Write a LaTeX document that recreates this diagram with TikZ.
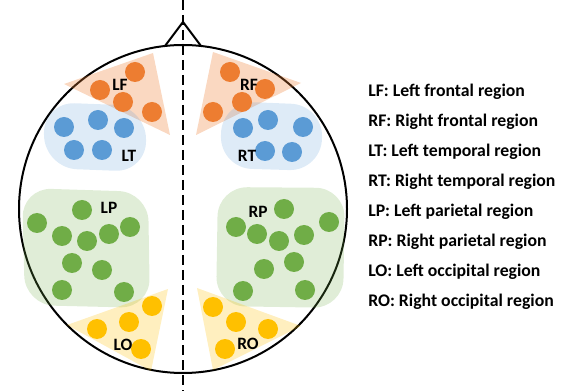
\documentclass[tikz,border=0pt]{standalone}
\usepackage{fontspec}
\setmainfont{Carlito}
\usetikzlibrary{shapes.geometric}
\definecolor{cOrange}{HTML}{ED7D31}
\definecolor{cBlue}{HTML}{5B9BD5}
\definecolor{cGreen}{HTML}{70AD47}
\definecolor{cGold}{HTML}{FFC000}
\tikzset{
  outline/.style={line width=1.5pt, black},
  midline/.style={line width=1.5pt, black, dash pattern=on 7.5pt off 3.75pt},
  zone/.style={draw=none, fill=#1},
  dot/.style={circle, inner sep=0pt, minimum size=15pt, fill=#1, draw=none},
  tag/.style={font=\bfseries\fontsize{13}{15}\selectfont, inner sep=0pt},
  legend/.style={font=\bfseries\fontsize{13.3}{16}\selectfont, inner sep=0pt, anchor=west},
}
\begin{document}
\begin{tikzpicture}[x=0.75pt, y=-0.75pt]
\useasboundingbox (0,0) rectangle (567,391);

% head outline and nose
\node[circle, outline, draw, minimum size=246pt, inner sep=0pt] (head) at (183,209) {};
\coordinate (noseL) at (165,46);
\coordinate (noseT) at (183,22);
\coordinate (noseR) at (201,46);
\draw[outline, line join=miter] (noseL) -- (noseT) -- (noseR);

% frontal regions
\fill[zone=cOrange, fill opacity=0.3] (64,84) -- (153,53) -- (170,135) -- cycle;
\fill[zone=cOrange, fill opacity=0.3] (213,52) -- (301,83) -- (196,135) -- cycle;

% temporal regions
\fill[zone=cBlue, fill opacity=0.2, rounded corners=24pt] (43,102) -- (145,106) -- (147,172) -- (45,168) -- cycle;
\fill[zone=cBlue, fill opacity=0.2, rounded corners=24pt] (222,101) -- (323,105) -- (321,171) -- (220,168) -- cycle;

% parietal regions
\fill[zone=cGreen, fill opacity=0.22, rounded corners=22pt] (22,188) -- (148,192) -- (150,308) -- (25,305) -- cycle;
\fill[zone=cGreen, fill opacity=0.22, rounded corners=22pt] (218,187) -- (345,188) -- (343,308) -- (216,306) -- cycle;

% occipital regions
\fill[zone=cGold, fill opacity=0.25] (67,325) -- (168,289) -- (151,371) -- cycle;
\fill[zone=cGold, fill opacity=0.25] (197,288) -- (301,326) -- (213,370) -- cycle;

% electrodes
\foreach \n/\p in {1/{135,72},2/{100,90},3/{123,102},4/{152,112}}
  \node[dot=cOrange] (lf\n) at (\p) {};
\foreach \n/\p in {1/{230,72},2/{265,89},3/{242,102},4/{213,112}}
  \node[dot=cOrange] (rf\n) at (\p) {};
\foreach \n/\p in {1/{64,127},2/{98,120},3/{124,128},4/{74,150},5/{102,150}}
  \node[dot=cBlue] (lt\n) at (\p) {};
\foreach \n/\p in {1/{243,128},2/{268,120},3/{303,127},4/{265,151},5/{292,152}}
  \node[dot=cBlue] (rt\n) at (\p) {};
\foreach \n/\p in {1/{82,210},2/{37,223},3/{62,236},4/{87,241},5/{109,234},6/{130,227},7/{72,263},8/{102,270},9/{62,290},10/{124,292}}
  \node[dot=cGreen] (lp\n) at (\p) {};
\foreach \n/\p in {1/{284,209},2/{236,227},3/{257,234},4/{279,241},5/{304,235},6/{329,222},7/{264,269},8/{294,262},9/{243,291},10/{305,290}}
  \node[dot=cGreen] (rp\n) at (\p) {};
\foreach \n/\p in {1/{97,329},2/{129,322},3/{152,306},4/{141,349}}
  \node[dot=cGold] (lo\n) at (\p) {};
\foreach \n/\p in {1/{213,307},2/{236,322},3/{268,329},4/{225,349}}
  \node[dot=cGold] (ro\n) at (\p) {};

% region labels
\node[tag] (tLF) at (120,85) {LF};
\node[tag] (tRF) at (249,85) {RF};
\node[tag] (tLT) at (129,156) {LT};
\node[tag] (tRT) at (247,156) {RT};
\node[tag] (tLP) at (109,208) {LP};
\node[tag] (tRP) at (258,212) {RP};
\node[tag] (tLO) at (123,345) {LO};
\node[tag] (tRO) at (248,344) {RO};

% midline
\coordinate (midTop) at (183,0);
\coordinate (midBot) at (183,391);
\draw[midline] (midTop) -- (midBot);

% legend
\node[legend] (k1) at (368,92)  {LF: Left frontal region};
\node[legend] (k2) at (368,122) {RF: Right frontal region};
\node[legend] (k3) at (368,152) {LT: Left temporal region};
\node[legend] (k4) at (368,182) {RT: Right temporal region};
\node[legend] (k5) at (368,212) {LP: Left parietal region};
\node[legend] (k6) at (368,242) {RP: Right parietal region};
\node[legend] (k7) at (368,272) {LO: Left occipital region};
\node[legend] (k8) at (368,302) {RO: Right occipital region};
\end{tikzpicture}
\end{document}
